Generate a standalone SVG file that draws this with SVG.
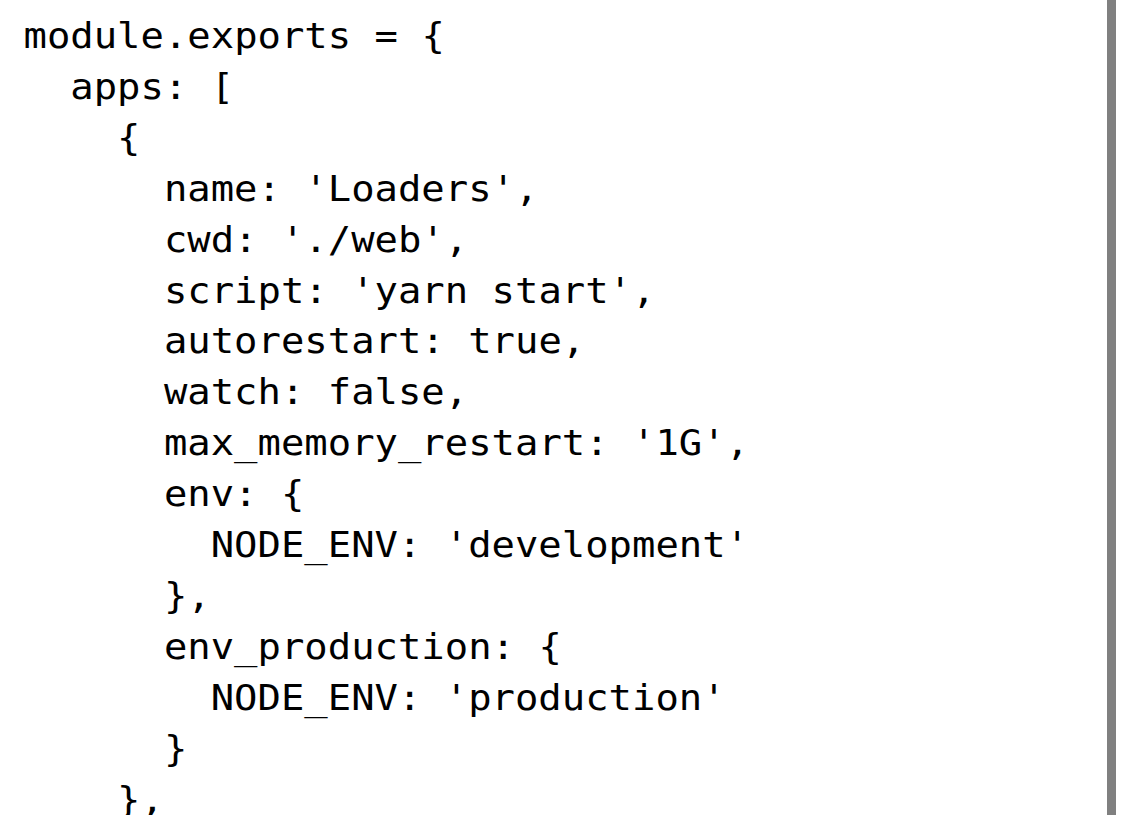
<svg xmlns="http://www.w3.org/2000/svg" width="1125" height="815" viewBox="0 0 1125 815">
<style>
.c{font-family:"DejaVu Sans Mono","Liberation Mono",monospace;font-size:36.3px;fill:#000;white-space:pre}
</style>
<rect x="0" y="0" width="1125" height="815" fill="#fff"/>
<rect id="scrollbar" x="1107" y="0" width="9" height="815" fill="#808080"/>
<g id="code" transform="translate(-1.5,0) scale(1.071,1)">
<text class="c" x="23.34" y="47.9">module.exports = {</text>
<text class="c" x="67.04" y="98.8">apps: [</text>
<text class="c" x="110.74" y="149.8">{</text>
<text class="c" x="154.44" y="200.7">name: 'Loaders',</text>
<text class="c" x="154.44" y="251.6">cwd: './web',</text>
<text class="c" x="154.44" y="302.6">script: 'yarn start',</text>
<text class="c" x="154.44" y="353.5">autorestart: true,</text>
<text class="c" x="154.44" y="404.4">watch: false,</text>
<text class="c" x="154.44" y="455.3">max_memory_restart: '1G',</text>
<text class="c" x="154.44" y="506.3">env: {</text>
<text class="c" x="198.14" y="557.2">NODE_ENV: 'development'</text>
<text class="c" x="154.44" y="608.1">},</text>
<text class="c" x="154.44" y="659.1">env_production: {</text>
<text class="c" x="198.14" y="710">NODE_ENV: 'production'</text>
<text class="c" x="154.44" y="760.9">}</text>
<text class="c" x="110.74" y="811.9">},</text>
</g>
</svg>
